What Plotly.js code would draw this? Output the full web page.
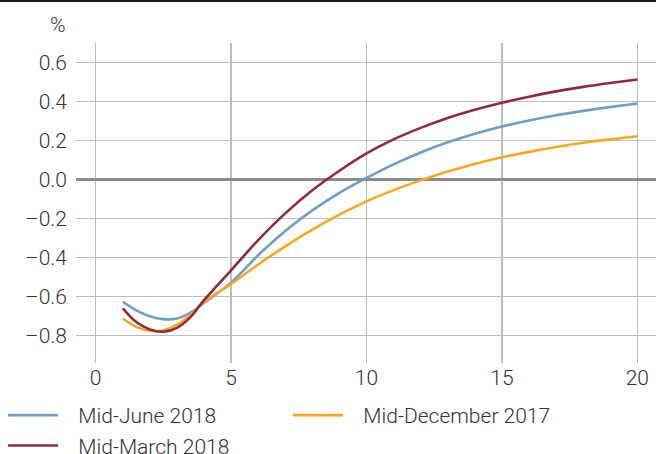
<!DOCTYPE html>
<html>
<head>
<meta charset="utf-8">
<script src="https://cdn.plot.ly/plotly-3.0.1.min.js"></script>
<style>
  html, body { margin: 0; padding: 0; background: #fff; }
  #chart { width: 656px; height: 454px; }
</style>
</head>
<body>
<div id="chart"></div>
<script>
// Maturity (years)
const maturities = [1, 1.5, 2, 2.5, 3, 3.5, 4, 5, 6, 7, 8, 9, 10, 11, 12, 13, 14, 15, 16, 17, 18, 19, 20];

// Yield curves, %
const midJune2018 = [-0.626, -0.670, -0.700, -0.715, -0.712, -0.682, -0.632, -0.528, -0.388, -0.264, -0.158, -0.068, 0.008, 0.078, 0.139, 0.191, 0.235, 0.272, 0.303, 0.330, 0.352, 0.372, 0.390];
const midDecember2017 = [-0.712, -0.755, -0.775, -0.772, -0.745, -0.693, -0.628, -0.535, -0.435, -0.342, -0.257, -0.180, -0.112, -0.054, -0.004, 0.041, 0.080, 0.114, 0.142, 0.167, 0.189, 0.206, 0.222];
const midMarch2018 = [-0.660, -0.730, -0.768, -0.780, -0.760, -0.705, -0.618, -0.465, -0.310, -0.173, -0.055, 0.045, 0.134, 0.206, 0.265, 0.316, 0.358, 0.394, 0.425, 0.452, 0.475, 0.495, 0.513];

const seriesNames = ["Mid-June 2018", "Mid-December 2017", "Mid-March 2018"];
const xTickVals = [0, 5, 10, 15, 20];
const xTickText = ["0", "5", "10", "15", "20"];
const yTickVals = [0.6, 0.4, 0.2, 0.0, -0.2, -0.4, -0.6, -0.8];
const yTickText = ["0.6", "0.4", "0.2", "0.0", "\u20130.2", "\u20130.4", "\u20130.6", "\u20130.8"];
const unitLabel = "%";

const colors = ["#6f9ec6", "#f7a823", "#8f2b3b"];
const seriesData = [midJune2018, midDecember2017, midMarch2018];
const pad = "\u00a0\u00a0\u00a0";

const traces = seriesData.map((ys, i) => ({
  x: maturities,
  y: ys,
  type: "scatter",
  mode: "lines",
  name: pad + seriesNames[i],
  line: { color: colors[i], width: 2.6, shape: "spline", smoothing: 1 },
  hoverinfo: "skip"
}));

const font = { family: "Roboto, 'Liberation Sans', sans-serif", size: 21, color: "#333333", weight: 300 };

const layout = {
  width: 656,
  height: 454,
  margin: { l: 76, r: 0, t: 43, b: 91, pad: 0 },
  paper_bgcolor: "#ffffff",
  plot_bgcolor: "#ffffff",
  font: font,
  showlegend: true,
  legend: {
    orientation: "h",
    xref: "container",
    yref: "container",
    x: 0.0046,
    xanchor: "left",
    y: 0.130,
    yanchor: "top",
    entrywidth: 220,
    entrywidthmode: "pixels",
    font: { family: font.family, size: 21, color: "#333333", weight: 300 },
    tracegroupgap: 0,
    itemwidth: 50
  },
  xaxis: {
    range: [-0.727, 20.69],
    tickvals: xTickVals,
    ticktext: xTickText,
    showgrid: true,
    gridcolor: "#bdbdbd",
    gridwidth: 1.3,
    zeroline: false,
    showline: false,
    ticks: "",
    tickfont: font,
    automargin: false,
    fixedrange: true
  },
  yaxis: {
    range: [-0.94, 0.7],
    tickvals: yTickVals,
    ticktext: yTickText,
    showgrid: true,
    gridcolor: "#bdbdbd",
    gridwidth: 1.3,
    zeroline: true,
    zerolinecolor: "#8c8c8c",
    zerolinewidth: 2.2,
    showline: false,
    ticks: "",
    ticklabelstandoff: 8,
    tickfont: font,
    automargin: false,
    fixedrange: true
  },
  shapes: [{
    type: "line",
    xref: "paper", yref: "paper",
    x0: -0.131, x1: 1,
    y0: 1.131, y1: 1.131,
    line: { color: "#1a1a1a", width: 2 }
  }],
  annotations: [{
    text: unitLabel,
    xref: "paper", yref: "paper",
    x: -0.014, y: 1.056,
    xanchor: "right", yanchor: "middle",
    showarrow: false,
    font: font
  }]
};

Plotly.newPlot("chart", traces, layout, { displayModeBar: false, staticPlot: true });
</script>
</body>
</html>
